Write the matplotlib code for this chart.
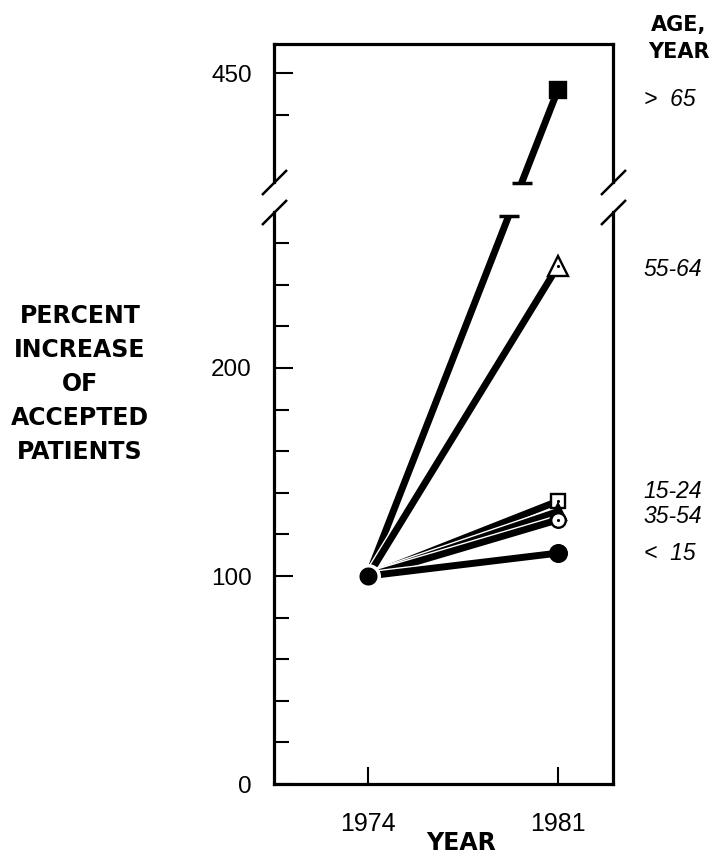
import matplotlib
matplotlib.use('Agg')
import matplotlib.pyplot as plt
import matplotlib.patheffects as pe
from matplotlib.ticker import FixedLocator

# data
years = [1974, 1981]
age_labels = ['>  65', '55-64', '15-24', '', '35-54', '<  15']
start_values = [100, 100, 100, 100, 100, 100]
end_values = [442, 249, 136, 131, 127, 111]

lower_ticks = [0, 100, 200]
lower_minor = [20, 40, 60, 80, 120, 140, 160, 180, 220, 240, 260]
upper_ticks = [450]
upper_minor = [430]

# marker style per series: (marker, facecolor, size, dot inside)
styles = [
    ('s', 'black', 11, False),
    ('^', 'white', 14, True),
    ('s', 'white', 10.5, True),
    ('^', 'black', 11, False),
    ('o', 'white', 10.5, True),
    ('o', 'black', 12, False),
]
label_nudge = [-4.5, -1.5, 4.8, 0, 1.4, 0]

plt.rcParams['font.family'] = ['Liberation Sans', 'DejaVu Sans']

W, H = 715, 855
fig = plt.figure(figsize=(W / 100, H / 100), dpi=100)

# pixel layout of the broken axis
left_px, right_px = 274, 613
lo_bottom_px, lo_top_px = 784, 212
hi_bottom_px, hi_top_px = 182, 44
lo_lim = (0, 275)
px_per_unit = (lo_bottom_px - lo_top_px) / (lo_lim[1] - lo_lim[0])
hi_lim = (450 - (hi_bottom_px - 73) / px_per_unit, 450 + (73 - hi_top_px) / px_per_unit)
gap_units = (lo_top_px - hi_bottom_px) / px_per_unit
shift = hi_lim[0] - (lo_lim[1] + gap_units)
xlim = (1974 - (368 - left_px) / 27.14, 1981 + (right_px - 558) / 27.14)


def frac_box(bottom_px, top_px):
    return [left_px / W, 1 - bottom_px / H, (right_px - left_px) / W, (bottom_px - top_px) / H]


ax_lo = fig.add_axes(frac_box(lo_bottom_px, lo_top_px))
ax_hi = fig.add_axes(frac_box(hi_bottom_px, hi_top_px))

for ax in (ax_lo, ax_hi):
    ax.set_xlim(*xlim)
    for s in ax.spines.values():
        s.set_linewidth(2.3)
ax_lo.set_ylim(*lo_lim)
ax_hi.set_ylim(*hi_lim)
ax_lo.spines['top'].set_visible(False)
ax_hi.spines['bottom'].set_visible(False)

ax_lo.set_xticks(years)
ax_lo.set_xticklabels([str(y) for y in years])
ax_lo.tick_params(axis='x', direction='in', length=12, width=1.5, pad=20, labelsize=18, top=False)
ax_hi.tick_params(axis='x', bottom=False, top=False, labelbottom=False)

ax_lo.yaxis.set_major_locator(FixedLocator(lower_ticks))
ax_lo.yaxis.set_minor_locator(FixedLocator(lower_minor))
ax_hi.yaxis.set_major_locator(FixedLocator(upper_ticks))
ax_hi.yaxis.set_minor_locator(FixedLocator(upper_minor))
for ax in (ax_lo, ax_hi):
    ax.tick_params(axis='y', which='major', direction='in', length=14, width=1.5, pad=16,
                   labelsize=17.5, right=False)
    ax.tick_params(axis='y', which='minor', direction='in', length=11, width=1.5, right=False)

# break marks
slash = dict(marker=[(-1, -1), (1, 1)], markersize=18, linestyle='none', color='k',
             mec='k', mew=1.8, clip_on=False)
ax_lo.plot([0, 1], [1, 1], transform=ax_lo.transAxes, **slash)
ax_hi.plot([0, 1], [0, 0], transform=ax_hi.transAxes, **slash)

lw = 5
line_fx = [pe.Stroke(linewidth=lw + 2, foreground='white'), pe.Normal()]
cap_lo = lo_lim[1] - 2
cap_hi = hi_lim[0] - 0.5

for i, (v0, v1) in enumerate(zip(start_values, end_values)):
    mk, fc, ms, dot = styles[i]
    z = 3 + i
    if v1 <= lo_lim[1]:
        ax_lo.plot(years, [v0, v1], color='black', lw=lw, solid_capstyle='butt',
                   path_effects=line_fx, zorder=z)
        target = ax_lo
    else:
        v1c = v1 - shift
        t_lo = (cap_lo - v0) / (v1c - v0)
        x_lo = years[0] + t_lo * (years[1] - years[0])
        ax_lo.plot([years[0], x_lo], [v0, cap_lo], color='black', lw=lw,
                   solid_capstyle='butt', path_effects=line_fx, zorder=z)
        ax_lo.plot([x_lo], [cap_lo], marker='_', ms=15, mew=2.5, color='black', zorder=z)
        t_hi = (cap_hi - shift - v0) / (v1c - v0)
        x_hi = years[0] + t_hi * (years[1] - years[0])
        ax_hi.plot([x_hi, years[1]], [cap_hi, v1], color='black', lw=lw,
                   solid_capstyle='butt', clip_on=False, zorder=z)
        ax_hi.plot([x_hi], [cap_hi], marker='_', ms=15, mew=2.5, color='black',
                   clip_on=False, zorder=z)
        target = ax_hi
    target.plot([years[1]], [v1], marker=mk, ms=ms, mfc=fc, mec='black', mew=1.7,
                linestyle='none', zorder=20 + i, clip_on=False)
    if dot:
        target.plot([years[1]], [v1], marker='.', ms=2.5, color='black',
                    linestyle='none', zorder=20 + i, clip_on=False)
    if age_labels[i]:
        target.text(1.09, v1 + label_nudge[i], age_labels[i],
                    transform=target.get_yaxis_transform(), ha='left', va='center',
                    fontsize=16.5, style='italic')

# common start point at 1974
ax_lo.plot([years[0]], [start_values[0]], marker='o', ms=15.5, mfc='black', mec='white',
           mew=2.5, linestyle='none', zorder=40)

bold = dict(family='DejaVu Sans', fontweight='bold', ha='center', va='center')
for k, line in enumerate(['PERCENT', 'INCREASE', 'OF', 'ACCEPTED', 'PATIENTS']):
    fig.text(80 / W, 1 - (316 + 34 * k) / H, line, fontsize=17, **bold)
fig.text(679 / W, 1 - 25 / H, 'AGE,', fontsize=15, **bold)
fig.text(679 / W, 1 - 52 / H, 'YEAR', fontsize=15, **bold)
fig.text(461 / W, 1 - 843 / H, 'YEAR', fontsize=17, **bold)

fig.savefig('out.png', dpi=100)
